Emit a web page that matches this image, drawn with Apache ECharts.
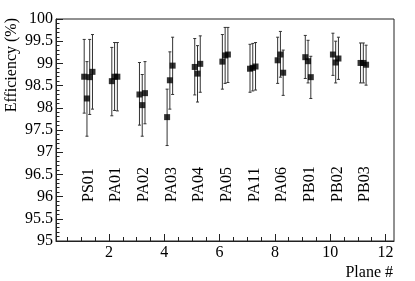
<!DOCTYPE html>
<html><head><meta charset="utf-8">
<script src="https://cdn.jsdelivr.net/npm/echarts@6/dist/echarts.min.js"></script>
<style>html,body{margin:0;padding:0;background:#fff}#c{width:415px;height:281px}</style>
</head><body><div id="c"></div>
<script>
const planeNames = ['PS01','PA01','PA02','PA03','PA04','PA05','PA11','PA06','PB01','PB02','PB03'];
const planePos = [1,2,3,4,5,6,7,8,9,10,11];
const pointX = [1.1,1.2,1.3,1.4, 2.1,2.2,2.3, 3.1,3.2,3.3, 4.1,4.2,4.3, 5.1,5.2,5.3, 6.1,6.2,6.3, 7.1,7.2,7.3, 8.1,8.2,8.3, 9.1,9.2,9.3, 10.1,10.2,10.3, 11.1,11.2,11.3];
const eff    = [98.70,98.21,98.69,98.81, 98.60,98.70,98.70, 98.30,98.06,98.33, 97.79,98.62,98.95, 98.92,98.77,98.99, 99.04,99.18,99.20, 98.88,98.90,98.93, 99.07,99.20,98.79, 99.14,99.05,98.69, 99.20,99.02,99.11, 99.01,99.01,98.97];
const effHi  = [99.54,99.04,99.54,99.65, 99.36,99.47,99.47, 99.02,98.75,99.04, 98.42,99.26,99.59, 99.56,99.40,99.62, 99.65,99.81,99.81, 99.43,99.45,99.47, 99.59,99.72,99.30, 99.63,99.52,99.16, 99.68,99.50,99.59, 99.46,99.46,99.41];
const effLo  = [97.88,97.36,97.85,97.97, 97.82,97.94,97.93, 97.61,97.36,97.64, 97.15,97.97,98.30, 98.29,98.13,98.35, 98.42,98.55,98.57, 98.35,98.38,98.40, 98.55,98.69,98.28, 98.66,98.56,98.21, 98.73,98.56,98.64, 98.56,98.56,98.51];
const xMajorTicks = [2,4,6,8,10,12];
const xMinorTicks = [0.5,1,1.5,2.5,3,3.5,4.5,5,5.5,6.5,7,7.5,8.5,9,9.5,10.5,11,11.5];
const labelOffsetX = 0.26;
const labelBaseY = 95.88;

const FONT = '"Liberation Serif", "Times New Roman", serif';
const chart = echarts.init(document.getElementById('c'), null, {renderer: 'canvas'});

const errData = pointX.map((x, i) => [x, effLo[i], effHi[i]]);
const ptData = pointX.map((x, i) => [x, eff[i]]);
const lblData = planePos.map((p, i) => [p + labelOffsetX, labelBaseY, planeNames[i]]);

const xCommon = {type: 'value', min: 0.08, max: 12.31, gridIndex: 0, position: 'bottom'};

chart.setOption({
  animation: false,
  grid: {left: 56, right: 21, top: 19, bottom: 40, show: true, borderColor: '#222', borderWidth: 1, backgroundColor: 'transparent'},
  xAxis: [
    Object.assign({}, xCommon, {
      axisLine: {onZero: false, lineStyle: {color: '#222', width: 1}},
      axisTick: {inside: true, length: 7, lineStyle: {color: '#222'}, customValues: xMajorTicks},
      axisLabel: {customValues: xMajorTicks, color: '#000', fontFamily: FONT, fontSize: 16, margin: 4},
      splitLine: {show: false}
    }),
    Object.assign({}, xCommon, {
      axisLine: {show: false, onZero: false},
      axisTick: {inside: true, length: 4, lineStyle: {color: '#222'}, customValues: xMinorTicks},
      axisLabel: {show: false},
      splitLine: {show: false}
    })
  ],
  yAxis: {
    type: 'value', min: 95, max: 100, interval: 0.5,
    axisLine: {show: true, lineStyle: {color: '#222'}},
    axisTick: {inside: true, length: 7, lineStyle: {color: '#222'}},
    minorTick: {show: true, splitNumber: 5, length: 3.5, lineStyle: {color: '#222'}},
    axisLabel: {color: '#000', fontFamily: FONT, fontSize: 16, margin: 3},
    splitLine: {show: false}
  },
  graphic: [
    {type: 'text', x: 12, y: 18, rotation: Math.PI / 2,
     style: {text: 'Efficiency (%)', font: '16px ' + FONT, fill: '#000', align: 'right', verticalAlign: 'middle'}},
    {type: 'text', x: 393, y: 273,
     style: {text: 'Plane #', font: '16px ' + FONT, fill: '#000', align: 'right', verticalAlign: 'middle'}}
  ],
  series: [
    {
      type: 'custom', xAxisIndex: 0, data: errData, z: 2,
      renderItem: function (params, api) {
        const x = api.value(0);
        const lo = api.coord([x, api.value(1)]);
        const hi = api.coord([x, api.value(2)]);
        const c = 1.5;
        const st = {stroke: '#333', lineWidth: 1};
        return {type: 'group', children: [
          {type: 'line', shape: {x1: lo[0], y1: lo[1], x2: hi[0], y2: hi[1]}, style: st},
          {type: 'line', shape: {x1: lo[0] - c, y1: lo[1], x2: lo[0] + c, y2: lo[1]}, style: st},
          {type: 'line', shape: {x1: hi[0] - c, y1: hi[1], x2: hi[0] + c, y2: hi[1]}, style: st}
        ]};
      }
    },
    {
      type: 'scatter', xAxisIndex: 0, data: ptData, symbol: 'rect', symbolSize: 6, z: 3,
      itemStyle: {color: '#000'}
    },
    {
      type: 'custom', xAxisIndex: 0, data: lblData, z: 4,
      renderItem: function (params, api) {
        const p = api.coord([api.value(0), api.value(1)]);
        return {type: 'text', x: p[0], y: p[1], rotation: Math.PI / 2,
          style: {text: lblData[params.dataIndex][2], font: '16px ' + FONT, fill: '#000', align: 'left', verticalAlign: 'middle'}};
      }
    }
  ]
});
</script></body></html>
